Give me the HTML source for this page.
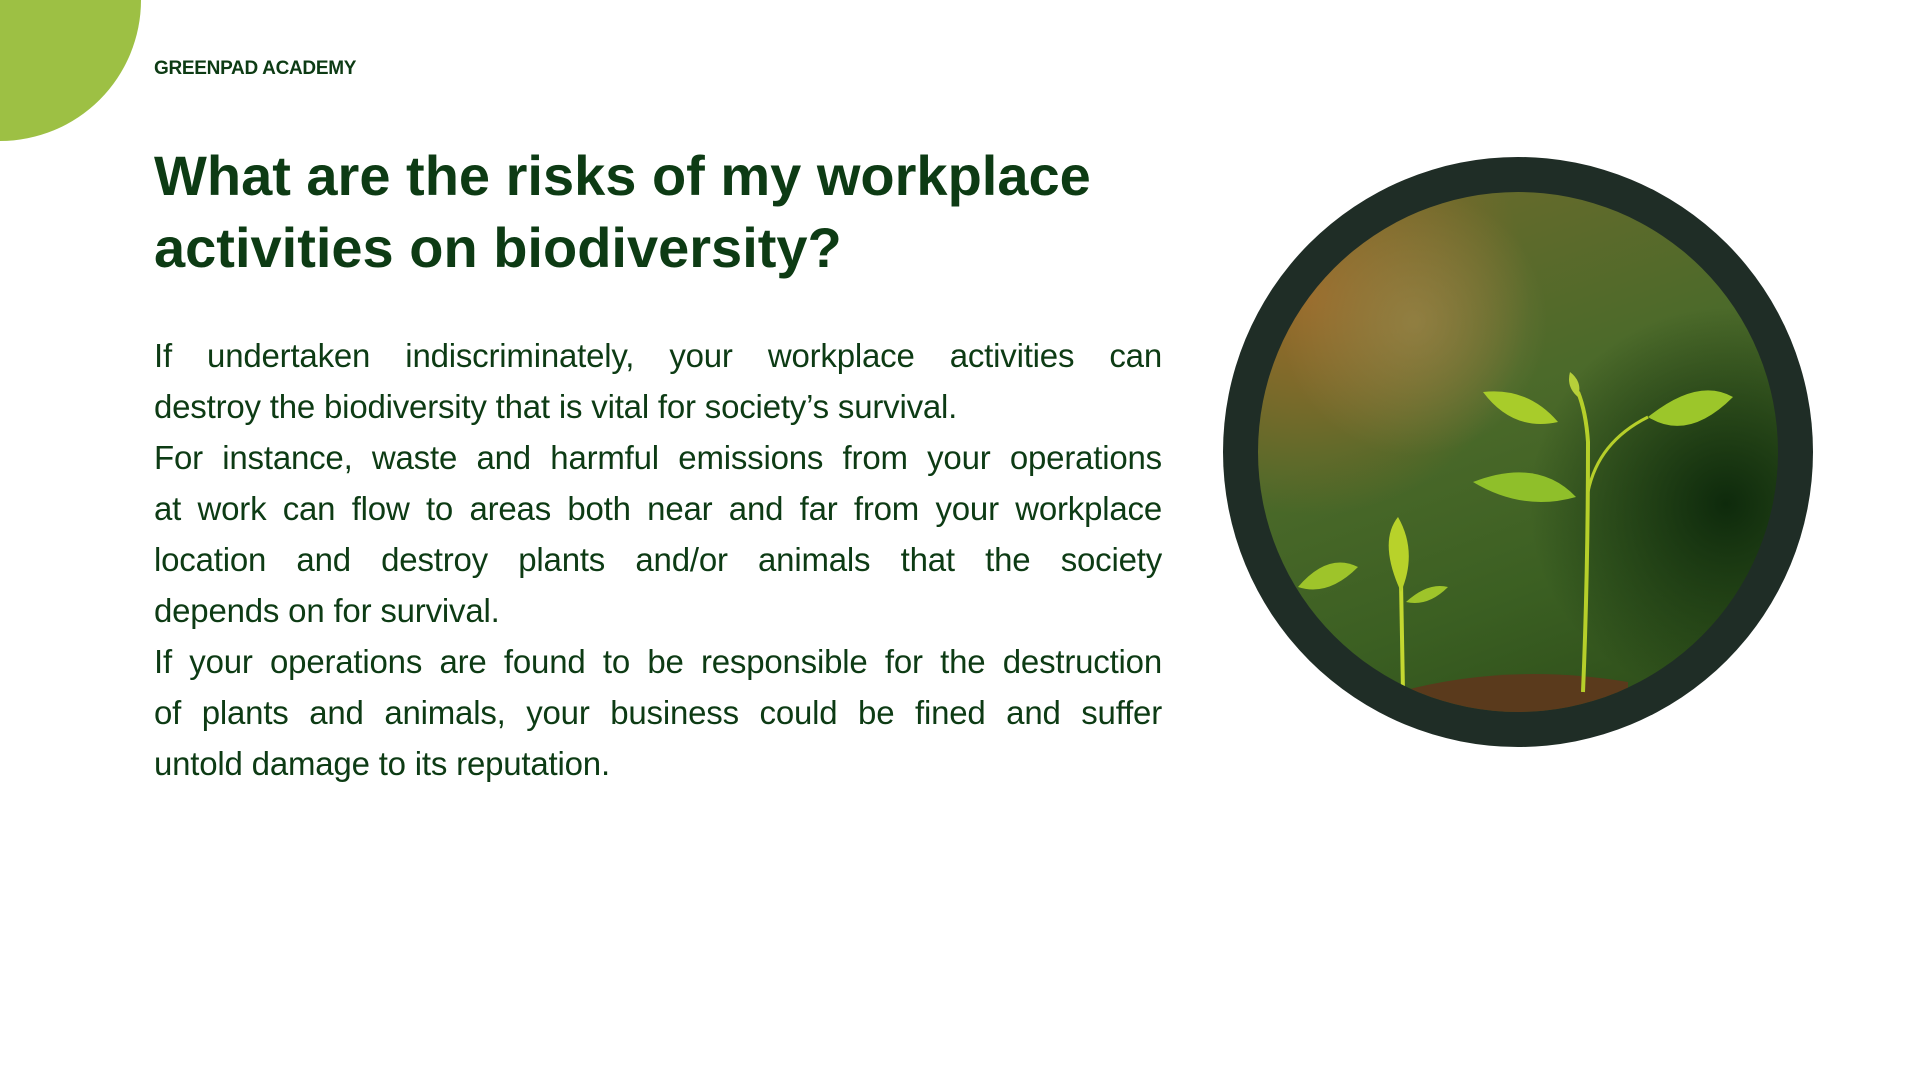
<!DOCTYPE html>
<html><head><meta charset="utf-8"><style>
*{margin:0;padding:0;box-sizing:border-box}
body{width:1920px;height:1080px;background:#fff;position:relative;overflow:hidden;font-family:"Liberation Sans",sans-serif;color:#0d3b14}
.corner{position:absolute;left:0;top:0;width:141px;height:141px;border-bottom-right-radius:141px;background:#9dc044}
.brand{position:absolute;left:154px;top:58px;font-size:19px;font-weight:bold;letter-spacing:-0.3px}
.title{position:absolute;left:154px;top:140px;font-size:56px;font-weight:bold;line-height:72px;letter-spacing:0px}
.body{position:absolute;left:154px;top:330px;width:1008px;font-size:33px;line-height:51px;overflow:hidden}
.body div{white-space:nowrap;letter-spacing:-0.2px}
.j{text-align:justify;text-align-last:justify}
.circle{position:absolute;left:1223px;top:157px;width:590px;height:590px;border-radius:50%;background:#1f2d26;overflow:hidden}
.inner{position:absolute;left:35px;top:35px;width:520px;height:520px;border-radius:50%;overflow:hidden;
background:radial-gradient(circle at 30% 25%,rgba(160,140,80,.6) 0,rgba(120,110,50,0) 25%),
radial-gradient(circle at 10% 20%,#9a6a2a 0,rgba(130,90,40,0) 35%),
radial-gradient(circle at 90% 60%,#0e2a0c 0,rgba(14,42,12,0) 35%),
linear-gradient(160deg,#6f6a2c 0%,#4c6a2a 40%,#3b5f22 70%,#2a4a18 100%)}
</style></head><body>
<div class="corner"></div>
<div class="brand">GREENPAD ACADEMY</div>
<div class="title">What are the risks of my workplace<br>activities on biodiversity?</div>
<div class="body">
<div class="j">If undertaken indiscriminately, your workplace activities can</div>
<div>destroy the biodiversity that is vital for society’s survival.</div>
<div class="j">For instance, waste and harmful emissions from your operations</div>
<div class="j">at work can flow to areas both near and far from your workplace</div>
<div class="j">location and destroy plants and/or animals that the society</div>
<div>depends on for survival.</div>
<div class="j">If your operations are found to be responsible for the destruction</div>
<div class="j">of plants and animals, your business could be fined and suffer</div>
<div>untold damage to its reputation.</div>
</div>
<div class="circle">
<div class="inner">
<svg width="520" height="520" viewBox="0 0 520 520">
<path d="M140 500 Q250 470 370 490 L370 520 L140 520Z" fill="#5a3a1c"/>
<path d="M325 500 Q330 380 330 250 Q328 220 320 200" stroke="#b6cf2a" stroke-width="4" fill="none"/>
<path d="M330 300 Q340 250 390 225" stroke="#b6cf2a" stroke-width="3" fill="none"/>
<path d="M390 225 Q440 185 475 205 Q430 250 390 225Z" fill="#9cc62a"/>
<path d="M300 230 Q270 195 225 200 Q255 240 300 230Z" fill="#a8cc2a"/>
<path d="M318 305 Q280 265 215 290 Q265 320 318 305Z" fill="#8fbf2a"/>
<path d="M320 205 Q308 195 312 180 Q325 190 320 205Z" fill="#b6d03a"/>
<path d="M145 500 L143 390" stroke="#c4d830" stroke-width="4" fill="none"/>
<path d="M143 400 Q120 350 140 325 Q160 360 143 400Z" fill="#b8d22a"/>
<path d="M148 410 Q170 390 190 395 Q170 415 148 410Z" fill="#9ec42a"/>
<path d="M40 395 Q70 360 100 375 Q70 405 40 395Z" fill="#9ec42a"/>
</svg>
</div></div>
</body></html>
